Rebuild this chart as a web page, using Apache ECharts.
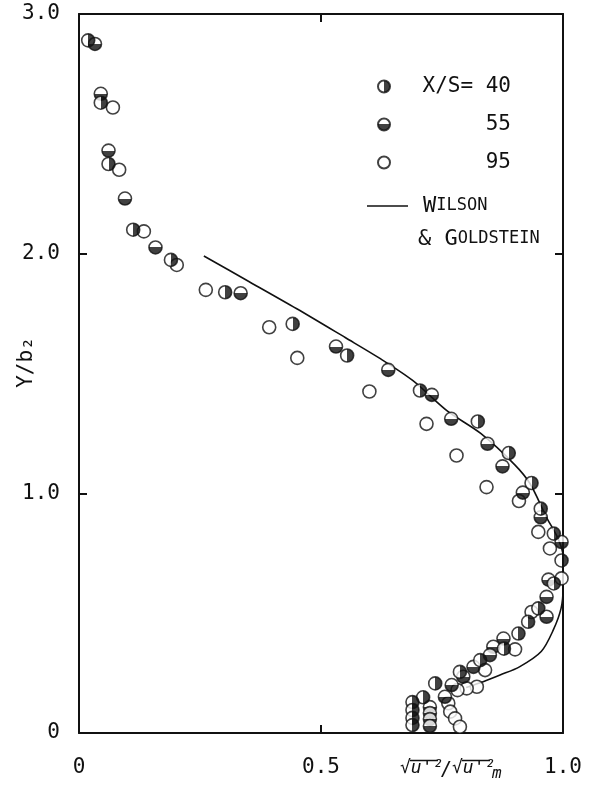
<!DOCTYPE html>
<html>
<head>
<meta charset="utf-8">
<script src="https://cdn.jsdelivr.net/npm/echarts@6/dist/echarts.min.js"></script>
<style>
  html, body { margin: 0; padding: 0; background: #fff; }
  #chart { width: 589px; height: 799px; }
</style>
</head>
<body>
<div id="chart"></div>
<script>
// X/S = 40 (right half filled)
const xs40 = [
  [0.019, 2.89], [0.045, 2.63], [0.061, 2.374], [0.112, 2.10], [0.190, 1.974],
  [0.302, 1.839], [0.4415, 1.707], [0.554, 1.575], [0.7045, 1.429], [0.824, 1.30],
  [0.888, 1.168], [0.935, 1.043], [0.954, 0.936], [0.981, 0.832], [0.997, 0.72],
  [0.981, 0.624], [0.949, 0.52], [0.928, 0.464], [0.908, 0.415], [0.878, 0.352],
  [0.829, 0.304], [0.787, 0.255], [0.736, 0.207], [0.711, 0.149],
  [0.689, 0.129], [0.689, 0.096], [0.689, 0.063], [0.689, 0.033]
];
// X/S = 55 (bottom half filled)
const xs55 = [
  [0.033, 2.875], [0.045, 2.667], [0.061, 2.43], [0.095, 2.23], [0.158, 2.026],
  [0.334, 1.835], [0.531, 1.6125], [0.639, 1.515], [0.729, 1.411], [0.769, 1.311],
  [0.844, 1.207], [0.875, 1.1125], [0.917, 1.003], [0.954, 0.90], [0.997, 0.797],
  [0.97, 0.64], [0.966, 0.568], [0.966, 0.485], [0.877, 0.394], [0.856, 0.36],
  [0.849, 0.325], [0.815, 0.276], [0.794, 0.235], [0.770, 0.20], [0.756, 0.151],
  [0.725, 0.108], [0.725, 0.083], [0.725, 0.058], [0.725, 0.029]
];
// X/S = 95 (open)
const xs95 = [
  [0.070, 2.61], [0.083, 2.35], [0.134, 2.093], [0.202, 1.953], [0.262, 1.849],
  [0.393, 1.693], [0.451, 1.565], [0.600, 1.425], [0.718, 1.29], [0.780, 1.158],
  [0.842, 1.026], [0.909, 0.968], [0.949, 0.839], [0.973, 0.77], [0.997, 0.645],
  [0.935, 0.505], [0.901, 0.349], [0.839, 0.2625], [0.822, 0.193], [0.801, 0.186],
  [0.782, 0.179], [0.763, 0.124], [0.767, 0.089], [0.777, 0.061], [0.787, 0.026]
];
// Wilson & Goldstein curve
const wilson = [
  [0.258, 1.99], [0.35, 1.885], [0.45, 1.77], [0.55, 1.65], [0.62, 1.565],
  [0.69, 1.47], [0.76, 1.345], [0.83, 1.25], [0.90, 1.12], [0.932, 1.04],
  [0.966, 0.90], [0.99, 0.81], [1.0, 0.74], [1.0, 0.6], [0.996, 0.52],
  [0.98, 0.43], [0.955, 0.34], [0.91, 0.276], [0.87, 0.242], [0.835, 0.214], [0.80, 0.19]
];
const xTicks = [0, 0.5, 1.0];
const yTicks = [0, 1.0, 2.0, 3.0];

const ink = "#111";
const mono = "DejaVu Sans Mono";

function half(x2, y2) {
  return new echarts.graphic.LinearGradient(0, 0, x2, y2, [
    { offset: 0, color: "#fff" },
    { offset: 0.5, color: "#fff" },
    { offset: 0.5, color: ink },
    { offset: 1, color: ink },
  ]);
}

function tickLabel(v) {
  return v === 0 ? "0" : v.toFixed(1);
}

const axisCommon = {
  type: "value",
  axisLine: { show: true, onZero: false, lineStyle: { color: ink, width: 2 } },
  axisTick: { show: true, inside: true, length: 8, lineStyle: { color: ink, width: 2 } },
  splitLine: { show: false },
};

const chart = echarts.init(document.getElementById("chart"));
chart.setOption({
  backgroundColor: "#fff",
  animation: false,
  grid: { left: 79, right: 26, top: 14, bottom: 66, containLabel: false, outerBoundsMode: "none" },
  xAxis: [
    {
      ...axisCommon,
      min: xTicks[0], max: xTicks[2], interval: 0.5,
      position: "bottom",
      axisLabel: { margin: 24, fontFamily: mono, fontSize: 21, color: ink, formatter: tickLabel },
    },
    {
      ...axisCommon,
      min: xTicks[0], max: xTicks[2], interval: 0.5,
      position: "top",
      axisLabel: { show: false },
    },
  ],
  yAxis: [
    {
      ...axisCommon,
      min: yTicks[0], max: yTicks[3], interval: 1,
      position: "left",
      name: "Y/b\u2082",
      nameLocation: "middle",
      nameGap: 42,
      nameRotate: 90,
      nameMoveOverlap: false,
      nameTextStyle: { fontFamily: mono, fontSize: 21, color: ink, padding: [0, 0, 0, 22] },
      axisLabel: { margin: 19, fontFamily: mono, fontSize: 21, color: ink, formatter: tickLabel },
    },
    {
      ...axisCommon,
      min: yTicks[0], max: yTicks[3], interval: 1,
      position: "right",
      axisLabel: { show: false },
    },
  ],
  legend: [
    {
      orient: "vertical",
      left: 372,
      top: 71,
      itemWidth: 12,
      itemHeight: 12,
      itemGap: 17,
      selectedMode: false,
      data: ["X/S= 40", "X/S= 55", "X/S= 95"],
      formatter: (name) => "{a|" + (name === "X/S= 40" ? name : name.slice(-2)) + "}",
      textStyle: {
        rich: {
          a: { width: 88, align: "right", fontFamily: mono, fontSize: 21, color: ink, padding: [0, 0, 0, 28] },
        },
      },
    },
    {
      left: 362,
      top: 190,
      itemWidth: 41,
      itemHeight: 1.6,
      icon: "rect",
      selectedMode: false,
      data: ["Wilson & Goldstein"],
      formatter: () => "{big|W}{sm|ILSON}",
      textStyle: {
        rich: {
          big: { fontFamily: mono, fontSize: 22, color: ink, padding: [0, 0, 0, 10] },
          sm: { fontFamily: mono, fontSize: 17, color: ink },
        },
      },
    },
  ],
  graphic: [
    {
      type: "text",
      left: 418,
      top: 228,
      style: {
        text: "{big|& G}{sm|OLDSTEIN}",
        rich: {
          big: { fontFamily: mono, fontSize: 22, fill: ink },
          sm: { fontFamily: mono, fontSize: 17, fill: ink },
        },
      },
    },
    {
      type: "group",
      left: 400,
      top: 758,
      children: [
        { type: "text", x: 0, y: 2, style: { text: "\u221Au'\u00B2", font: "italic 18px " + mono, fill: ink } },
        { type: "line", shape: { x1: 10, y1: 3, x2: 38, y2: 3 }, style: { stroke: ink, lineWidth: 1.5 } },
        { type: "text", x: 40, y: 2, style: { text: "/", font: "20px " + mono, fill: ink } },
        { type: "text", x: 52, y: 2, style: { text: "\u221Au'\u00B2", font: "italic 18px " + mono, fill: ink } },
        { type: "line", shape: { x1: 62, y1: 3, x2: 90, y2: 3 }, style: { stroke: ink, lineWidth: 1.5 } },
        { type: "text", x: 92, y: 8, style: { text: "m", font: "italic 16px " + mono, fill: ink } },
      ],
    },
  ],
  series: [
    {
      name: "Wilson & Goldstein",
      type: "line",
      data: wilson,
      smooth: 0.3,
      symbol: "none",
      showSymbol: false,
      lineStyle: { color: ink, width: 1.6 },
      itemStyle: { color: ink },
      z: 1,
    },
    {
      name: "X/S= 95",
      type: "scatter",
      data: xs95,
      symbol: "circle",
      symbolSize: 13,
      itemStyle: { color: "#fff", borderColor: ink, borderWidth: 1.6 },
      z: 2,
    },
    {
      name: "X/S= 55",
      type: "scatter",
      data: xs55,
      symbol: "circle",
      symbolSize: 13,
      itemStyle: { color: half(0, 1), borderColor: ink, borderWidth: 1.6 },
      z: 3,
    },
    {
      name: "X/S= 40",
      type: "scatter",
      data: xs40,
      symbol: "circle",
      symbolSize: 13,
      itemStyle: { color: half(1, 0), borderColor: ink, borderWidth: 1.6 },
      z: 4,
    },
  ],
});
</script>
</body>
</html>
